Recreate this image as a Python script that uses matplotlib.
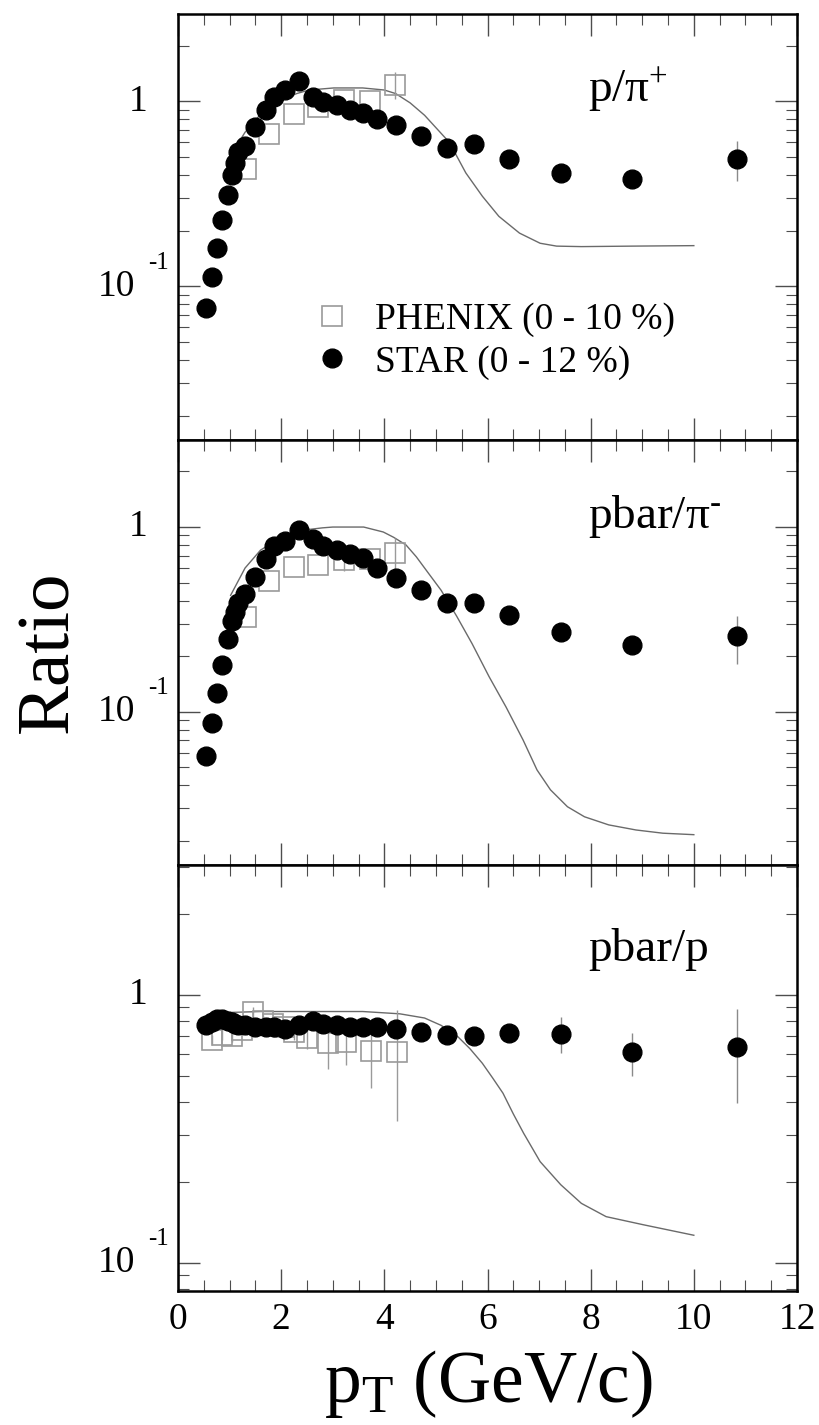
import numpy as np
import matplotlib
matplotlib.use('Agg')
from matplotlib import pyplot as plt
from matplotlib.ticker import LogLocator, MultipleLocator, NullFormatter
from matplotlib.lines import Line2D

plt.rcParams['font.family'] = ['Liberation Serif', 'DejaVu Serif']
plt.rcParams['mathtext.fontset'] = 'custom'
plt.rcParams['mathtext.rm'] = 'Liberation Serif'
plt.rcParams['mathtext.it'] = 'Liberation Serif:italic'

# STAR (0-12 %) points, same pT bins in all panels
star_pt = [0.55, 0.65, 0.76, 0.85, 0.96, 1.04, 1.11, 1.17, 1.29, 1.50, 1.70, 1.87,
           2.08, 2.34, 2.61, 2.82, 3.08, 3.34, 3.58, 3.86, 4.22, 4.71, 5.22, 5.73,
           6.41, 7.42, 8.80, 10.84]
star_ppi = [0.076, 0.112, 0.161, 0.228, 0.313, 0.40, 0.465, 0.53, 0.57, 0.73, 0.90, 1.05,
            1.15, 1.28, 1.06, 0.99, 0.96, 0.90, 0.86, 0.80, 0.745, 0.65, 0.56, 0.59,
            0.49, 0.41, 0.38, 0.49]
star_ppi_err = [0] * 27 + [0.12]
star_pbpi = [0.0576, 0.087, 0.127, 0.18, 0.249, 0.31, 0.347, 0.388, 0.432, 0.537, 0.674, 0.786,
             0.84, 0.96, 0.865, 0.786, 0.754, 0.717, 0.68, 0.60, 0.532, 0.455, 0.39, 0.39,
             0.336, 0.27, 0.229, 0.256]
star_pbpi_err = [0] * 27 + [0.075]
star_pbp = [0.77, 0.79, 0.81, 0.81, 0.80, 0.79, 0.78, 0.77, 0.77, 0.76, 0.76, 0.757,
            0.746, 0.77, 0.80, 0.78, 0.77, 0.76, 0.76, 0.757, 0.746, 0.725, 0.71, 0.70,
            0.72, 0.716, 0.61, 0.64]
star_pbp_err = [0] * 25 + [0.11, 0.11, 0.245]

# PHENIX (0-10 %)
phx_pt = [1.31, 1.76, 2.25, 2.72, 3.22, 3.73, 4.21]
phx_ppi = [0.43, 0.665, 0.85, 0.935, 1.02, 1.0, 1.23]
phx_ppi_err = [0, 0, 0, 0, 0, 0, 0.2]
phx_pbpi = [0.326, 0.51, 0.61, 0.625, 0.66, 0.67, 0.72]
phx_pbpi_err = [0, 0, 0, 0, 0.08, 0, 0.15]
phx_pt_pbp = [0.65, 0.85, 1.05, 1.25, 1.45, 1.65, 1.85, 2.05, 2.25, 2.5, 2.9, 3.25, 3.75, 4.25]
phx_pbp = [0.68, 0.71, 0.70, 0.74, 0.86, 0.80, 0.78, 0.76, 0.73, 0.69, 0.66, 0.67, 0.62, 0.61]
phx_pbp_err = [0.03, 0.03, 0.03, 0.03, 0.04, 0.04, 0.04, 0.05, 0.05, 0.06, 0.13, 0.12, 0.17, 0.27]

# model curves
cur_pt_ppi = [1.0, 1.3, 1.6, 2.0, 2.3, 2.54, 3.02, 3.58, 4.0, 4.22, 4.5, 4.78, 5.02, 5.26,
              5.58, 5.9, 6.22, 6.62, 7.02, 7.34, 7.82, 8.8, 10.0]
cur_ppi = [0.5, 0.68, 0.85, 1.02, 1.10, 1.15, 1.18, 1.18, 1.15, 1.10, 0.98, 0.84, 0.71, 0.60,
           0.41, 0.307, 0.239, 0.194, 0.171, 0.165, 0.164, 0.165, 0.166]
cur_pt_pbpi = [1.02, 1.3, 1.6, 2.0, 2.4, 2.8, 3.0, 3.6, 3.98, 4.18, 4.42, 4.62, 4.86, 5.1,
               5.4, 5.70, 6.03, 6.36, 6.69, 6.96, 7.22, 7.55, 7.88, 8.35, 8.88, 9.40, 10.0]
cur_pbpi = [0.427, 0.6, 0.75, 0.88, 0.96, 0.99, 1.0, 1.0, 0.94, 0.88, 0.80, 0.69, 0.56, 0.455,
            0.33, 0.234, 0.155, 0.106, 0.0703, 0.0484, 0.0378, 0.0306, 0.027, 0.0244,
            0.0229, 0.022, 0.0216]
cur_pt_pbp = [1.0, 1.6, 2.62, 3.58, 4.3, 4.78, 5.1, 5.42, 5.66, 5.9, 6.1, 6.3, 6.5, 6.7,
              6.86, 7.02, 7.42, 7.82, 8.3, 9.02, 10.0]
cur_pbp = [0.86, 0.867, 0.867, 0.867, 0.85, 0.82, 0.77, 0.70, 0.63, 0.556, 0.49, 0.43, 0.36,
           0.305, 0.27, 0.239, 0.196, 0.167, 0.149, 0.139, 0.127]

panels = [
    (star_ppi, star_ppi_err, phx_pt, phx_ppi, phx_ppi_err, cur_pt_ppi, cur_ppi,
     r'$\mathregular{p/\pi^{+}}$', (0.0148, 2.96), 0.793),
    (star_pbpi, star_pbpi_err, phx_pt, phx_pbpi, phx_pbpi_err, cur_pt_pbpi, cur_pbpi,
     r'$\mathregular{pbar/\pi^{\text{-}}}$', (0.0148, 2.96), 0.793),
    (star_pbp, star_pbp_err, phx_pt_pbp, phx_pbp, phx_pbp_err, cur_pt_pbp, cur_pbp,
     'pbar/p', (0.0787, 3.05), 0.775),
]

fig = plt.figure(figsize=(8.19, 14.25), dpi=100)
left, width = 178 / 819, 619 / 819
tops = [14, 440, 865]
bots = [440, 865, 1291]

for i, (sy, se, px, py, pe, cx, cy, lab, ylim, laby) in enumerate(panels):
    b = 1 - bots[i] / 1425
    h = (bots[i] - tops[i]) / 1425
    ax = fig.add_axes([left, b, width, h])
    ax.set_yscale('log')

    ax.plot(cx, cy, color='#6a6a6a', lw=1.0, zorder=1)
    ax.errorbar(px, py, yerr=pe, fmt='s', ms=14, mfc='none', mec='#9a9a9a', mew=1.2,
                ecolor='#9a9a9a', elinewidth=1.0, capsize=0, zorder=2)
    ax.errorbar(star_pt, sy, yerr=se, fmt='o', ms=13.5, mfc='black', mec='black',
                ecolor='#8a8a8a', elinewidth=1.0, capsize=0, zorder=3)

    ax.set_xlim(0, 12)
    ax.set_ylim(*ylim)
    ax.xaxis.set_major_locator(MultipleLocator(2))
    ax.xaxis.set_minor_locator(MultipleLocator(0.5))
    ax.yaxis.set_major_locator(LogLocator(base=10, subs=(1.0,)))
    ax.yaxis.set_minor_locator(LogLocator(base=10, subs=np.arange(2, 10)))
    ax.yaxis.set_major_formatter(NullFormatter())
    ax.yaxis.set_minor_formatter(NullFormatter())
    ax.tick_params(which='both', direction='in', top=True, right=True,
                   color='0.3', labelsize=27)
    ax.tick_params(which='major', length=16, width=1.0, pad=8)
    ax.tick_params(which='minor', length=8, width=0.8)
    for sp in ax.spines.values():
        sp.set_linewidth(1.8)
    if i < 2:
        ax.tick_params(labelbottom=False)

    # y tick labels
    ax.annotate('1', xy=(0, 1), xycoords=('axes fraction', 'data'),
                xytext=(-29, 0), textcoords='offset points',
                ha='center', va='center', fontsize=27)
    ax.annotate('10', xy=(0, 0.1), xycoords=('axes fraction', 'data'),
                xytext=(-44, 0), textcoords='offset points',
                ha='center', va='center', fontsize=27)
    ax.annotate('-1', xy=(0, 0.1), xycoords=('axes fraction', 'data'),
                xytext=(-14, 17), textcoords='offset points',
                ha='center', va='center', fontsize=18)

    ax.text(0.662, laby, lab, transform=ax.transAxes, fontsize=34,
            ha='left', va='baseline')

    if i == 0:
        handles = [Line2D([], [], ls='none', marker='s', ms=14, mfc='none',
                          mec='#9a9a9a', mew=1.2),
                   Line2D([], [], ls='none', marker='o', ms=13.5, mfc='black',
                          mec='black')]
        ax.legend(handles, ['PHENIX (0 - 10 %)', 'STAR (0 - 12 %)'],
                  loc='upper left', bbox_to_anchor=(0.2246, 0.323),
                  frameon=False, fontsize=27, borderpad=0, borderaxespad=0,
                  handlelength=0.8, handletextpad=0.75, labelspacing=0.21,
                  numpoints=1)

fig.text(50 / 819, 1 - 652 / 1425, 'Ratio', rotation=90, fontsize=54,
         ha='center', va='center')
fig.text(489 / 819, 1 - 1402 / 1425, r'$\mathregular{p_{T}}$ (GeV/c)', fontsize=53,
         ha='center', va='baseline')

fig.savefig('out.png', dpi=100)
